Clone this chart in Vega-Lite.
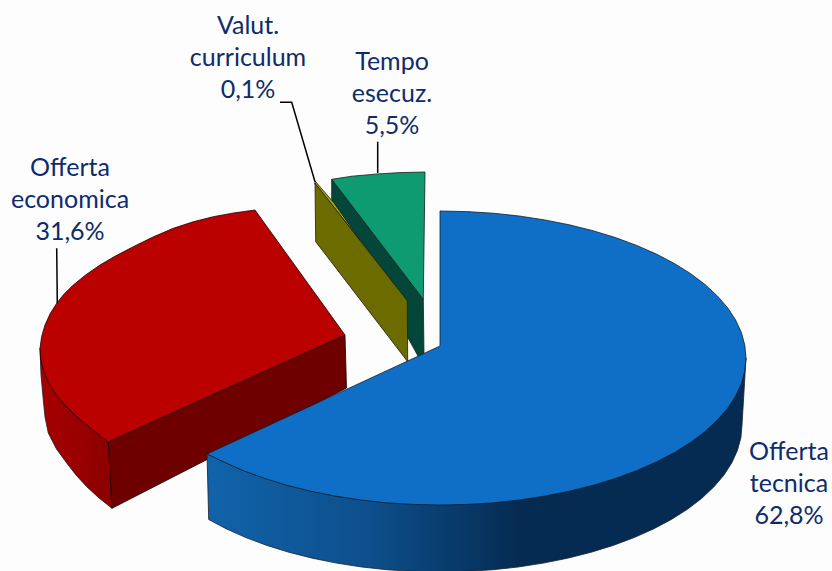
{"$schema":"https://vega.github.io/schema/vega-lite/v6.json","width":832,"height":571,"padding":0,"autosize":{"type":"none"},"background":"#fdfdfd","view":{"stroke":null},
"datasets":{
"shapes":[
{"shape":"green side","step":1,"x":331.7,"y":179.3},{"shape":"green side","step":2,"x":423.3,"y":299.3},{"shape":"green side","step":3,"x":424,"y":355},{"shape":"green side","step":4,"x":418,"y":356},{"shape":"green side","step":5,"x":331.7,"y":200},{"shape":"green side","step":6,"x":331.7,"y":179.3},
{"shape":"green top","step":1,"x":331.7,"y":179.3},{"shape":"green top","step":2,"x":352,"y":176.2},{"shape":"green top","step":3,"x":377,"y":174},{"shape":"green top","step":4,"x":400,"y":172.6},{"shape":"green top","step":5,"x":425,"y":172},{"shape":"green top","step":6,"x":423.3,"y":299.3},{"shape":"green top","step":7,"x":331.7,"y":179.3},
{"shape":"olive top","step":1,"x":315,"y":181},{"shape":"olive top","step":2,"x":334,"y":203},{"shape":"olive top","step":3,"x":360,"y":240},{"shape":"olive top","step":4,"x":315,"y":184},{"shape":"olive top","step":5,"x":315,"y":181},
{"shape":"olive face","step":1,"x":315,"y":183},{"shape":"olive face","step":2,"x":407.3,"y":300.7},{"shape":"olive face","step":3,"x":407.7,"y":361.7},{"shape":"olive face","step":4,"x":315.7,"y":241.7},{"shape":"olive face","step":5,"x":315,"y":183},
{"shape":"red curve","step":1,"x":40,"y":348.3},{"shape":"red curve","step":2,"x":43.3,"y":370},{"shape":"red curve","step":3,"x":55,"y":393.3},{"shape":"red curve","step":4,"x":76.7,"y":416.7},{"shape":"red curve","step":5,"x":108.3,"y":441.7},{"shape":"red curve","step":6,"x":112,"y":508.3},{"shape":"red curve","step":6.5,"x":99,"y":498},{"shape":"red curve","step":7,"x":86.7,"y":486.7},{"shape":"red curve","step":7.5,"x":76,"y":475},{"shape":"red curve","step":8,"x":66.7,"y":463},{"shape":"red curve","step":8.5,"x":56.5,"y":449},{"shape":"red curve","step":9,"x":48.3,"y":433},{"shape":"red curve","step":9.5,"x":45,"y":417},{"shape":"red curve","step":10,"x":43.3,"y":400},{"shape":"red curve","step":10.5,"x":41,"y":375},{"shape":"red curve","step":11,"x":40,"y":348.3},
{"shape":"red cut","step":1,"x":108.3,"y":441.7},{"shape":"red cut","step":2,"x":345,"y":335},{"shape":"red cut","step":3,"x":346.5,"y":388},{"shape":"red cut","step":4,"x":112,"y":508.3},{"shape":"red cut","step":5,"x":108.3,"y":441.7},
{"shape":"red top","step":1,"x":255,"y":210},{"shape":"red top","step":1.5,"x":234,"y":212.9},{"shape":"red top","step":2,"x":213.3,"y":216.7},{"shape":"red top","step":2.5,"x":193.2,"y":221.8},{"shape":"red top","step":3,"x":173.3,"y":228.3},{"shape":"red top","step":3.5,"x":152.9,"y":237.1},{"shape":"red top","step":4,"x":133.3,"y":246.7},{"shape":"red top","step":4.5,"x":115.8,"y":255.8},{"shape":"red top","step":5,"x":100,"y":265},{"shape":"red top","step":5.5,"x":85.6,"y":275},{"shape":"red top","step":6,"x":73.3,"y":285},{"shape":"red top","step":6.5,"x":64.1,"y":294},{"shape":"red top","step":7,"x":56.7,"y":303.3},{"shape":"red top","step":7.5,"x":50.1,"y":313.8},{"shape":"red top","step":8,"x":45,"y":325},{"shape":"red top","step":8.5,"x":41.6,"y":336.7},{"shape":"red top","step":9,"x":40,"y":348.3},{"shape":"red top","step":9.5,"x":40.6,"y":359.2},{"shape":"red top","step":10,"x":43.3,"y":370},{"shape":"red top","step":10.5,"x":48,"y":381.5},{"shape":"red top","step":11,"x":55,"y":393.3},{"shape":"red top","step":11.5,"x":64.6,"y":404.9},{"shape":"red top","step":12,"x":76.7,"y":416.7},{"shape":"red top","step":12.5,"x":91.8,"y":429.4},{"shape":"red top","step":13,"x":108.3,"y":441.7},{"shape":"red top","step":14,"x":345,"y":335},{"shape":"red top","step":15,"x":255,"y":210},
{"shape":"blue side","step":1,"x":207,"y":454},{"shape":"blue side","step":2,"x":243.3,"y":470.6},{"shape":"blue side","step":3,"x":287,"y":485.3},{"shape":"blue side","step":4,"x":335.3,"y":496.1},{"shape":"blue side","step":5,"x":386.9,"y":502.8},{"shape":"blue side","step":6,"x":440,"y":505},{"shape":"blue side","step":7,"x":493.1,"y":502.8},{"shape":"blue side","step":8,"x":544.7,"y":496.1},{"shape":"blue side","step":9,"x":593,"y":485.3},{"shape":"blue side","step":10,"x":636.7,"y":470.6},{"shape":"blue side","step":11,"x":674.4,"y":452.5},{"shape":"blue side","step":12,"x":705,"y":431.5},{"shape":"blue side","step":13,"x":727.6,"y":408.3},{"shape":"blue side","step":14,"x":741.4,"y":383.5},{"shape":"blue side","step":15,"x":746,"y":358},{"shape":"blue side","step":16,"x":742,"y":425},{"shape":"blue side","step":16.5,"x":740.9,"y":437.8},{"shape":"blue side","step":17,"x":737.4,"y":450.5},{"shape":"blue side","step":17.5,"x":731.7,"y":463},{"shape":"blue side","step":18,"x":723.8,"y":475.3},{"shape":"blue side","step":18.5,"x":713.7,"y":487.1},{"shape":"blue side","step":19,"x":701.5,"y":498.5},{"shape":"blue side","step":19.5,"x":687.4,"y":509.3},{"shape":"blue side","step":20,"x":671.3,"y":519.5},{"shape":"blue side","step":20.5,"x":653.5,"y":528.9},{"shape":"blue side","step":21,"x":634.1,"y":537.6},{"shape":"blue side","step":21.5,"x":613.2,"y":545.4},{"shape":"blue side","step":22,"x":591,"y":552.3},{"shape":"blue side","step":22.5,"x":567.6,"y":558.2},{"shape":"blue side","step":23,"x":543.3,"y":563.1},{"shape":"blue side","step":23.5,"x":518.2,"y":567},{"shape":"blue side","step":24,"x":492.4,"y":569.8},{"shape":"blue side","step":24.5,"x":466.3,"y":571.4},{"shape":"blue side","step":25,"x":440,"y":572},{"shape":"blue side","step":25.5,"x":413.7,"y":571.4},{"shape":"blue side","step":26,"x":387.6,"y":569.8},{"shape":"blue side","step":26.5,"x":361.8,"y":567},{"shape":"blue side","step":27,"x":336.7,"y":563.1},{"shape":"blue side","step":27.5,"x":312.4,"y":558.2},{"shape":"blue side","step":28,"x":289,"y":552.3},{"shape":"blue side","step":28.5,"x":266.8,"y":545.4},{"shape":"blue side","step":29,"x":245.9,"y":537.6},{"shape":"blue side","step":29.5,"x":226.5,"y":528.9},{"shape":"blue side","step":30,"x":208.7,"y":519.5},{"shape":"blue side","step":31,"x":207,"y":454},
{"shape":"blue top","step":1,"x":440,"y":346},{"shape":"blue top","step":2,"x":440,"y":211},{"shape":"blue top","step":2.5,"x":466.7,"y":211.6},{"shape":"blue top","step":3,"x":493.1,"y":213.2},{"shape":"blue top","step":3.5,"x":519.2,"y":216},{"shape":"blue top","step":4,"x":544.7,"y":219.9},{"shape":"blue top","step":4.5,"x":569.3,"y":224.8},{"shape":"blue top","step":5,"x":593,"y":230.7},{"shape":"blue top","step":5.5,"x":615.5,"y":237.6},{"shape":"blue top","step":6,"x":636.7,"y":245.4},{"shape":"blue top","step":6.5,"x":656.4,"y":254.1},{"shape":"blue top","step":7,"x":674.4,"y":263.5},{"shape":"blue top","step":7.5,"x":690.7,"y":273.7},{"shape":"blue top","step":8,"x":705,"y":284.5},{"shape":"blue top","step":8.5,"x":717.3,"y":295.9},{"shape":"blue top","step":9,"x":727.6,"y":307.7},{"shape":"blue top","step":9.5,"x":735.6,"y":320},{"shape":"blue top","step":10,"x":741.4,"y":332.5},{"shape":"blue top","step":10.5,"x":744.8,"y":345.2},{"shape":"blue top","step":11,"x":746,"y":358},{"shape":"blue top","step":11.5,"x":744.8,"y":370.8},{"shape":"blue top","step":12,"x":741.4,"y":383.5},{"shape":"blue top","step":12.5,"x":735.6,"y":396},{"shape":"blue top","step":13,"x":727.6,"y":408.3},{"shape":"blue top","step":13.5,"x":717.3,"y":420.1},{"shape":"blue top","step":14,"x":705,"y":431.5},{"shape":"blue top","step":14.5,"x":690.7,"y":442.3},{"shape":"blue top","step":15,"x":674.4,"y":452.5},{"shape":"blue top","step":15.5,"x":656.4,"y":461.9},{"shape":"blue top","step":16,"x":636.7,"y":470.6},{"shape":"blue top","step":16.5,"x":615.5,"y":478.4},{"shape":"blue top","step":17,"x":593,"y":485.3},{"shape":"blue top","step":17.5,"x":569.3,"y":491.2},{"shape":"blue top","step":18,"x":544.7,"y":496.1},{"shape":"blue top","step":18.5,"x":519.2,"y":500},{"shape":"blue top","step":19,"x":493.1,"y":502.8},{"shape":"blue top","step":19.5,"x":466.7,"y":504.4},{"shape":"blue top","step":20,"x":440,"y":505},{"shape":"blue top","step":20.5,"x":413.3,"y":504.4},{"shape":"blue top","step":21,"x":386.9,"y":502.8},{"shape":"blue top","step":21.5,"x":360.8,"y":500},{"shape":"blue top","step":22,"x":335.3,"y":496.1},{"shape":"blue top","step":22.5,"x":310.7,"y":491.2},{"shape":"blue top","step":23,"x":287,"y":485.3},{"shape":"blue top","step":23.5,"x":264.5,"y":478.4},{"shape":"blue top","step":24,"x":243.3,"y":470.6},{"shape":"blue top","step":24.5,"x":223.6,"y":461.9},{"shape":"blue top","step":25,"x":207,"y":454},{"shape":"blue top","step":26,"x":440,"y":346}
],
"leaders":[
{"leader":"Valut","step":1,"x":280,"y":102.3},{"leader":"Valut","step":2,"x":291.7,"y":102.3},{"leader":"Valut","step":3,"x":315,"y":181.7},
{"leader":"Tempo","step":1,"x":377.7,"y":141.7},{"leader":"Tempo","step":2,"x":377.7,"y":173},
{"leader":"Economica","step":1,"x":56.7,"y":248.3},{"leader":"Economica","step":2,"x":57.3,"y":303.3}
],
"labels":[
{"label":"Valut.\ncurriculum\n0,1%","x":248,"y":26},
{"label":"Tempo\nesecuz.\n5,5%","x":392,"y":62},
{"label":"Offerta\neconomica\n31,6%","x":70,"y":168},
{"label":"Offerta\ntecnica\n62,8%","x":789,"y":452}
]},
"encoding":{
"x":{"field":"x","type":"quantitative","scale":{"domain":[0,832],"nice":false,"zero":false},"axis":null},
"y":{"field":"y","type":"quantitative","scale":{"domain":[0,571],"nice":false,"zero":false,"reverse":true},"axis":null}
},
"layer":[
{"data":{"name":"shapes"},"transform":[{"filter":"indexof(['green side','green top','olive face','olive top'],datum.shape)>=0"}],
 "mark":{"type":"line","filled":true,"stroke":"#1c1c1c","strokeWidth":0.8},
 "encoding":{"order":{"field":"step","type":"quantitative"},"color":{"field":"shape","type":"nominal","legend":null,"scale":{"domain":["green side","green top","olive face","olive top","red cut","red top"],"range":["#04473a","#0e9b72","#6b6b00","#a8a800","#6e0000","#bb0000"]}}}},
{"data":{"name":"shapes"},"transform":[{"filter":"datum.shape==='red curve'"}],
 "mark":{"type":"line","filled":true,"stroke":"#1c1c1c","strokeWidth":0.8,"fill":{"gradient":"linear","x1":0,"y1":0,"x2":1,"y2":0,"stops":[{"offset":0,"color":"#a80000"},{"offset":1,"color":"#8c0000"}]}},
 "encoding":{"order":{"field":"step","type":"quantitative"}}},
{"data":{"name":"shapes"},"transform":[{"filter":"datum.shape==='red cut'||datum.shape==='red top'"}],
 "mark":{"type":"line","filled":true,"stroke":"#1c0000","strokeWidth":0.8},
 "encoding":{"order":{"field":"step","type":"quantitative"},"color":{"field":"shape","type":"nominal","legend":null,"scale":{"domain":["green side","green top","olive face","olive top","red cut","red top"],"range":["#04473a","#0e9b72","#6b6b00","#a8a800","#6e0000","#bb0000"]}}}},
{"data":{"name":"shapes"},"transform":[{"filter":"datum.shape==='blue side'"}],
 "mark":{"type":"line","filled":true,"stroke":"#16202c","strokeWidth":0.8,"fill":{"gradient":"linear","x1":0,"y1":0,"x2":1,"y2":0,"stops":[{"offset":0,"color":"#1163aa"},{"offset":0.3,"color":"#0d4f8c"},{"offset":0.58,"color":"#052b52"},{"offset":1,"color":"#052b52"}]}},
 "encoding":{"order":{"field":"step","type":"quantitative"}}},
{"data":{"name":"shapes"},"transform":[{"filter":"datum.shape==='blue top'"}],
 "mark":{"type":"line","filled":true,"stroke":"#10202e","strokeWidth":0.8,"fill":"#0f6ec6"},
 "encoding":{"order":{"field":"step","type":"quantitative"}}},
{"data":{"name":"leaders"},"mark":{"type":"line","stroke":"#000000","strokeWidth":1.5},
 "encoding":{"order":{"field":"step","type":"quantitative"},"detail":{"field":"leader"}}},
{"data":{"name":"labels"},"mark":{"type":"text","font":"Lato","fontSize":25,"color":"#0e2c6c","align":"center","baseline":"middle","lineBreak":"\n","lineHeight":32},
 "encoding":{"text":{"field":"label"}}}
]}
